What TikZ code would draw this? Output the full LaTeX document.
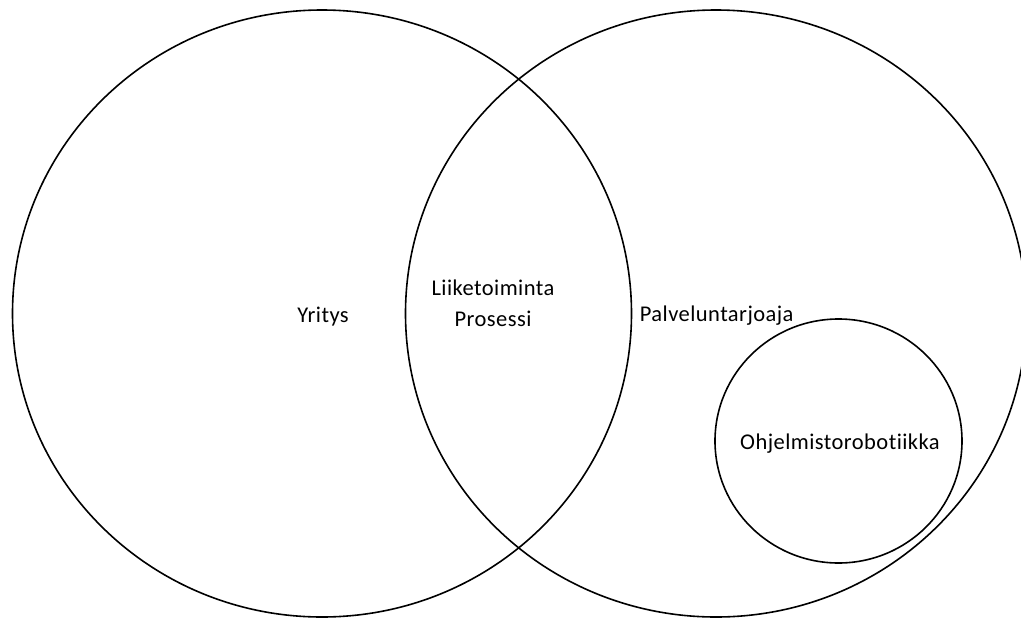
\documentclass[tikz,border=0pt]{standalone}
\usepackage{fontspec}
\setmainfont[Ligatures=NoCommon, LetterSpace=2]{Carlito}
\usetikzlibrary{shapes.geometric}
\begin{document}
\begin{tikzpicture}[x=1pt,y=-1pt,
  setshape/.style={draw=black, line width=1.6pt, ellipse, inner sep=0pt},
  lbl/.style={anchor=base, inner sep=0pt, font=\fontsize{22.5}{32}\selectfont}]
\useasboundingbox (0,0) rectangle (1021,619);
% the two overlapping sets
\node[setshape, minimum width=619pt, minimum height=607pt] (yritys) at (322,313.5) {};
\node[setshape, minimum width=621pt, minimum height=607pt] (palvelu) at (716,313.5) {};
% subset inside the service provider
\node[setshape, minimum width=247pt, minimum height=244pt] (robo) at (838.5,441) {};
% labels
\node[lbl] (tY) at (323,322.7) {Yritys};
\node[lbl] (tL) at (493,295) {Liiketoiminta};
\node[lbl] (tP) at (493,326.7) {Prosessi};
\node[lbl] (tPa) at (716.7,321.7) {Palveluntarjoaja};
\node[lbl] (tO) at (840,449) {Ohjelmistorobotiikka};
\end{tikzpicture}
\end{document}
